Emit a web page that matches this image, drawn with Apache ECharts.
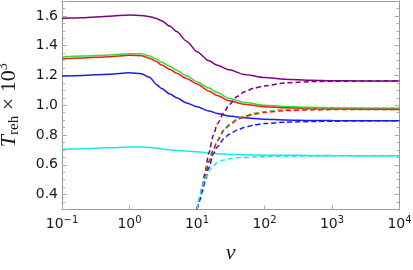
<!DOCTYPE html>
<html>
<head>
<meta charset="utf-8">
<script src="https://cdn.jsdelivr.net/npm/echarts@6/dist/echarts.min.js"></script>
<style>
html,body{margin:0;padding:0;background:#fff;}
#chart{width:413px;height:270px;}
</style>
</head>
<body>
<div id="chart"></div>
<script>
// x values (v) for the solid curves
const vSolid = [0.1, 0.2, 0.5, 1, 1.5, 2, 2.5, 3, 4, 5, 7, 10, 15, 20, 30, 50, 100, 200, 500, 1000, 3000, 10000];
const purpleSolid = [1.584, 1.588, 1.598, 1.606, 1.603, 1.595, 1.583, 1.567, 1.530, 1.495, 1.430, 1.360, 1.298, 1.268, 1.238, 1.207, 1.187, 1.175, 1.168, 1.165, 1.163, 1.162];
const greenSolid  = [1.326, 1.330, 1.338, 1.346, 1.345, 1.330, 1.310, 1.288, 1.260, 1.235, 1.198, 1.158, 1.115, 1.085, 1.045, 1.020, 1.000, 0.992, 0.986, 0.983, 0.981, 0.980];
const redSolid    = [1.313, 1.317, 1.326, 1.335, 1.333, 1.315, 1.293, 1.270, 1.240, 1.215, 1.180, 1.143, 1.095, 1.066, 1.030, 1.006, 0.990, 0.983, 0.977, 0.975, 0.973, 0.972];
const blueSolid   = [1.196, 1.200, 1.208, 1.218, 1.212, 1.187, 1.140, 1.112, 1.075, 1.050, 1.015, 0.990, 0.962, 0.945, 0.927, 0.916, 0.906, 0.901, 0.898, 0.897, 0.896, 0.896];
const cyanSolid   = [0.704, 0.708, 0.714, 0.720, 0.720, 0.717, 0.712, 0.706, 0.700, 0.696, 0.692, 0.688, 0.680, 0.675, 0.670, 0.667, 0.665, 0.664, 0.663, 0.662, 0.661, 0.661];

// x values (v) for the dashed curves
const vDashed = [10, 11, 12, 13, 15, 17.5, 20, 25, 30, 40, 50, 70, 100, 200, 500, 1000, 3000, 10000];
const purpleDashed = [0.30, 0.38, 0.46, 0.54, 0.68, 0.80, 0.875, 0.950, 1.005, 1.060, 1.090, 1.115, 1.130, 1.150, 1.159, 1.161, 1.162, 1.162];
const greenDashed  = [0.30, 0.37, 0.445, 0.515, 0.625, 0.705, 0.765, 0.835, 0.870, 0.910, 0.928, 0.946, 0.958, 0.970, 0.976, 0.978, 0.980, 0.980];
const redDashed    = [0.30, 0.37, 0.44, 0.51, 0.62, 0.70, 0.760, 0.830, 0.865, 0.905, 0.922, 0.940, 0.952, 0.964, 0.969, 0.971, 0.972, 0.972];
const blueDashed   = [0.30, 0.36, 0.42, 0.48, 0.58, 0.675, 0.720, 0.775, 0.805, 0.835, 0.850, 0.868, 0.877, 0.886, 0.891, 0.893, 0.895, 0.896];
const cyanDashed   = [0.30, 0.39, 0.46, 0.50, 0.56, 0.595, 0.615, 0.632, 0.640, 0.647, 0.650, 0.653, 0.655, 0.657, 0.659, 0.660, 0.661, 0.661];

const colors = { purple: '#800080', green: '#2fe02f', red: '#ee1c1c', blue: '#1c1ce6', cyan: '#19e8e8' };

function pairs(xs, ys) { return xs.map((x, i) => [x, ys[i]]); }
function line(name, xs, ys, color, dashed) {
  return {
    name: name, type: 'line', data: pairs(xs, ys),
    showSymbol: false, symbol: 'none', smooth: 0.25, smoothMonotone: 'x',
    clip: true, xAxisIndex: 0, yAxisIndex: 0,
    lineStyle: { color: color, width: 1.5, type: dashed ? [5, 3] : 'solid' }
  };
}

const axisGray = '#9a9a9a';
const tickGray = '#aaaaaa';

const chart = echarts.init(document.getElementById('chart'), null, { renderer: 'canvas' });
chart.setOption({
  animation: false,
  backgroundColor: '#ffffff',
  grid: { left: 62, right: 13.5, top: 1, bottom: 60.5, containLabel: false, outerBoundsMode: 'none' },
  xAxis: [{
    type: 'log', logBase: 10, min: 0.1, max: 10000, position: 'bottom',
    axisLine: { show: true, lineStyle: { color: axisGray, width: 1 } },
    axisTick: { show: true, inside: true, length: 4, lineStyle: { color: tickGray } },
    minorTick: { show: false },
    splitLine: { show: false },
    axisLabel: {
      margin: 6,
      formatter: function (v) {
        const e = Math.round(Math.log10(v));
        return '{b|10}{s|' + (e < 0 ? '\u2212' + (-e) : e) + '}';
      },
      rich: {
        b: { fontFamily: 'DejaVu Sans', fontSize: 14, lineHeight: 18, color: '#1a1a1a' },
        s: { fontFamily: 'DejaVu Sans', fontSize: 10, lineHeight: 10, verticalAlign: 'top', color: '#1a1a1a' }
      }
    },
    name: 'v', nameLocation: 'middle', nameGap: 33,
    nameTextStyle: { fontFamily: 'Liberation Serif', fontStyle: 'italic', fontSize: 22, color: '#1a1a1a' }
  }, {
    type: 'log', logBase: 10, min: 0.1, max: 10000, position: 'top',
    axisLine: { show: true, lineStyle: { color: axisGray, width: 1 } },
    axisTick: { show: false }, axisLabel: { show: false }, splitLine: { show: false }
  }],
  yAxis: [{
    type: 'value', min: 0.3, max: 1.7, splitNumber: 7, position: 'left',
    axisLine: { show: true, lineStyle: { color: axisGray, width: 1 } },
    axisTick: { show: true, inside: true, length: 5, lineStyle: { color: tickGray } },
    minorTick: { show: true, splitNumber: 4, length: 3, lineStyle: { color: tickGray } },
    splitLine: { show: false },
    axisLabel: {
      margin: 4, showMinLabel: false, showMaxLabel: false,
      fontFamily: 'DejaVu Sans', fontSize: 14, color: '#1a1a1a',
      formatter: function (v) { return v.toFixed(1); }
    },
    name: '{t|T}{s|reh}{m| \u00d7 10}{p|3}',
    nameLocation: 'middle', nameRotate: 90, nameGap: 40,
    nameTextStyle: {
      color: '#1a1a1a',
      rich: {
        t: { fontFamily: 'Liberation Serif', fontStyle: 'italic', fontSize: 22, lineHeight: 26, color: '#1a1a1a' },
        s: { fontFamily: 'Liberation Serif', fontSize: 15, lineHeight: 15, verticalAlign: 'bottom', color: '#1a1a1a' },
        m: { fontFamily: 'Liberation Serif', fontSize: 22, lineHeight: 26, color: '#1a1a1a' },
        p: { fontFamily: 'Liberation Serif', fontSize: 14, lineHeight: 14, verticalAlign: 'top', color: '#1a1a1a' }
      }
    }
  }, {
    type: 'value', min: 0.3, max: 1.7, splitNumber: 7, position: 'right',
    axisLine: { show: true, lineStyle: { color: axisGray, width: 1 } },
    axisTick: { show: true, inside: true, length: 5, lineStyle: { color: tickGray } },
    minorTick: { show: true, splitNumber: 4, length: 3, lineStyle: { color: tickGray } },
    splitLine: { show: false }, axisLabel: { show: false }
  }],
  series: [
    line('purple', vSolid, purpleSolid, colors.purple, false),
    line('green', vSolid, greenSolid, colors.green, false),
    line('red', vSolid, redSolid, colors.red, false),
    line('blue', vSolid, blueSolid, colors.blue, false),
    line('cyan', vSolid, cyanSolid, colors.cyan, false),
    line('purple dashed', vDashed, purpleDashed, colors.purple, true),
    line('green dashed', vDashed, greenDashed, colors.green, true),
    line('red dashed', vDashed, redDashed, colors.red, true),
    line('blue dashed', vDashed, blueDashed, colors.blue, true),
    line('cyan dashed', vDashed, cyanDashed, colors.cyan, true)
  ]
});
</script>
</body>
</html>
